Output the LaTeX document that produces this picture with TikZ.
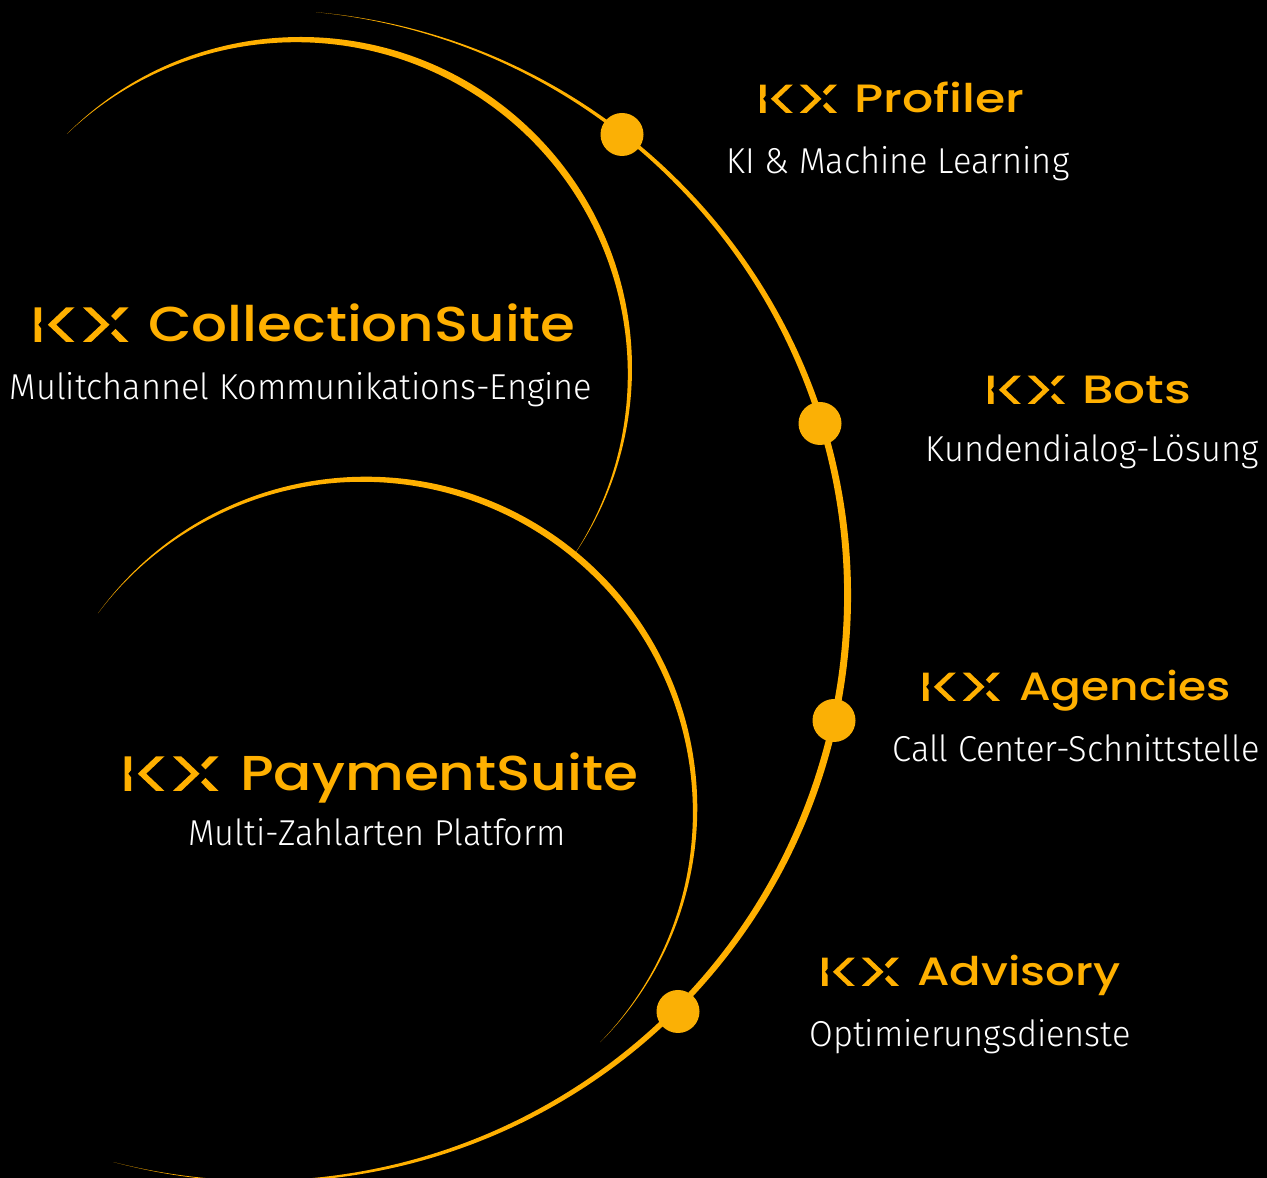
\documentclass[tikz,border=0pt]{standalone}
\usepackage{fontspec}
\setmainfont{Fira Sans Light}
\newfontfamily\titlefont{Poppins Medium}
\usetikzlibrary{positioning}
\definecolor{kxorange}{HTML}{FFB000}
\definecolor{kxdot}{HTML}{FBB005}

\tikzset{
  bigtitle/.style={anchor=base west,inner sep=0pt,text=kxorange,font=\titlefont\fontsize{49}{49}\selectfont},
  smalltitle/.style={anchor=base west,inner sep=0pt,text=kxorange,font=\titlefont\fontsize{39.5}{39.5}\selectfont},
  subtitle/.style={anchor=base,inner sep=0pt,text=white,font=\fontsize{36}{36}\selectfont,xscale=.955},
  dot/.style={circle,fill=kxdot,minimum size=43pt,inner sep=0pt},
  kxlogo/.pic={
    \fill[kxorange] (0,0) -- (6.7,0) -- (6.7,13.5) -- (3.7,17.3) -- (6.7,21) -- (6.7,34.7) -- (0,34.7) -- cycle;
    \fill[kxorange] (31.7,34.7) -- (40,34.7) -- (21.7,17.3) -- (40,0) -- (31.7,0) -- (13.3,17.3) -- cycle;
    \fill[kxorange] (48.3,34.7) -- (56.7,34.7) -- (75,17.3) -- (56.7,0) -- (48.3,0) -- (66.7,17.3) -- cycle;
    \fill[kxorange] (85,34.7) -- (94,34.7) -- (81,21.7) -- (76.7,26) -- cycle;
    \fill[kxorange] (76.7,8.7) -- (81,13) -- (94,0) -- (85,0) -- cycle;
  }
}

\begin{document}
\begin{tikzpicture}[x=1pt,y=1pt]
   \fill[black] (0,0) rectangle (1267,1178);
   \useasboundingbox (0,0) rectangle (1267,1178);

   % upper ring
   \fill[kxorange,shift={(301,810)},rotate=50] (85:331) arc[start angle=85,end angle=-85,radius=331]
      arc[start angle=-83.66,end angle=83.66,radius=331.77] -- cycle;
   % lower ring hides the end of the upper one
   \fill[black] (366,370) circle[radius=330];
   \fill[kxorange,shift={(366,370)},rotate=49.5] (94.5:331.3) arc[start angle=94.5,end angle=-94.5,radius=331.3]
      arc[start angle=-93.45,end angle=93.45,radius=330.88] -- cycle;
   % outer ring
   \fill[kxorange,shift={(265,582)},rotate=-10] (95:586) arc[start angle=95,end angle=-95,radius=586]
      arc[start angle=-94.37,end angle=94.37,radius=585.5] -- cycle;

   \node[dot] (dotProfiler) at (622,1043.5) {};
   \node[dot] (dotBots)     at (820,754.5) {};
   \node[dot] (dotAgencies) at (834,457.5) {};
   \node[dot] (dotAdvisory) at (678,166.5) {};

   \pic at (34.5,836) {kxlogo};
   \node[bigtitle,xscale=1.15] (titleCollection) at (148,836) {CollectionSuite};
   \node[subtitle] (subCollection) at (301,778.5) {Mulitchannel Kommunikations-Engine};

   \pic at (124.5,387) {kxlogo};
   \node[bigtitle,xscale=1.155] (titlePayment) at (240,387) {PaymentSuite};
   \node[subtitle] (subPayment) at (377,332.5) {Multi-Zahlarten Platform};

   \pic[scale=.82] at (760,1065) {kxlogo};
   \node[smalltitle,xscale=1.24] (titleProfiler) at (854,1065) {Profiler};
   \node[subtitle] (subProfiler) at (898,1004.5) {KI \& Machine Learning};

   \pic[scale=.82] at (988,774) {kxlogo};
   \node[smalltitle,xscale=1.27] (titleBots) at (1082,774) {Bots};
   \node[subtitle] (subBots) at (1092,716.5) {Kundendialog-Lösung};

   \pic[scale=.82] at (923,477) {kxlogo};
   \node[smalltitle,xscale=1.15] (titleAgencies) at (1019,477) {Agencies};
   \node[subtitle] (subAgencies) at (1076,416.5) {Call Center-Schnittstelle};

   \pic[scale=.82] at (822,192) {kxlogo};
   \node[smalltitle,xscale=1.18] (titleAdvisory) at (917,192) {Advisory};
   \node[subtitle] (subAdvisory) at (970,131.5) {Optimierungsdienste};
\end{tikzpicture}
\end{document}
